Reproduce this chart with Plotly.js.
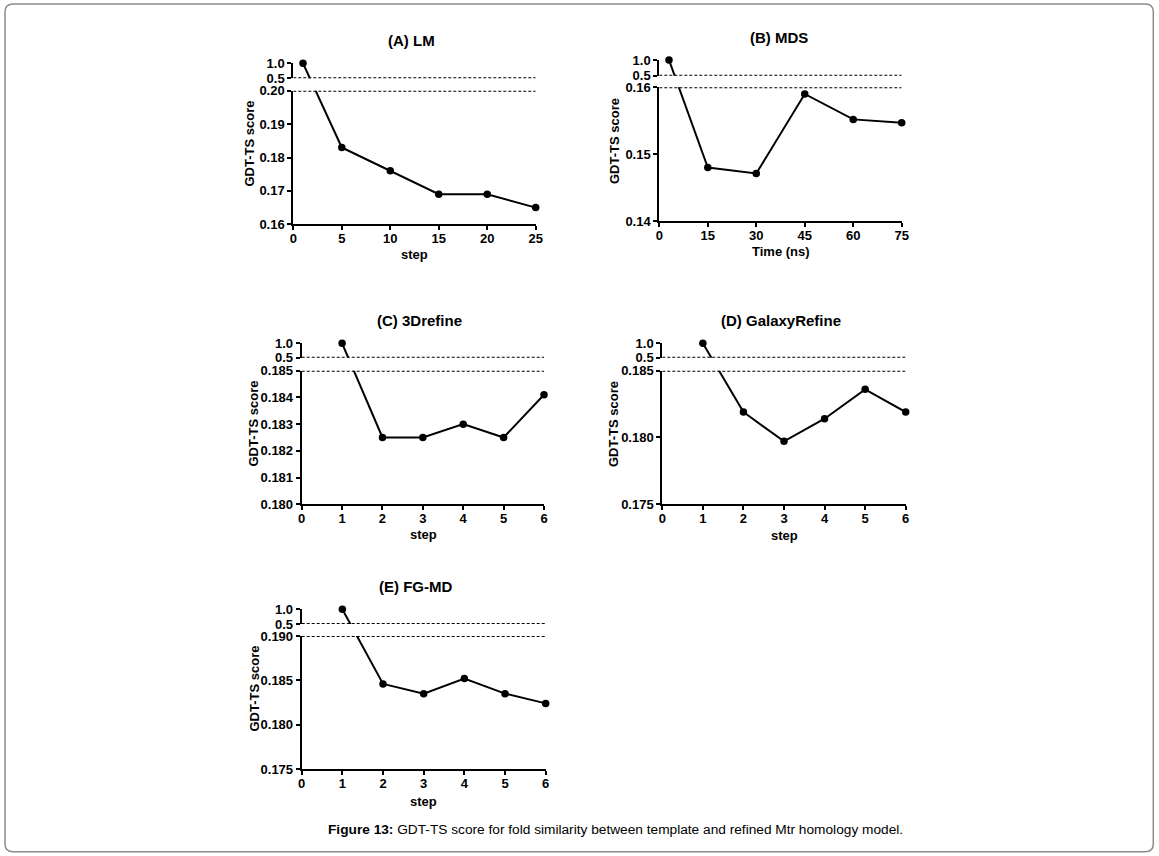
<!DOCTYPE html>
<html><head><meta charset="utf-8">
<script src="https://cdn.plot.ly/plotly-3.0.1.min.js"></script>
<style>html,body{margin:0;padding:0;background:#fff;} #chart{width:1159px;height:856px;}</style>
</head><body><div id="chart"></div>
<script>
// ---------- data ----------
const lmStep = [1, 5, 10, 15, 20, 25];
const lmScore = [1.0, 0.183, 0.176, 0.169, 0.169, 0.165];
const mdsTime = [3, 15, 30, 45, 60, 75];
const mdsScore = [1.0, 0.1480, 0.1471, 0.1590, 0.1552, 0.1547];
const refineStep = [1, 2, 3, 4, 5, 6];
const threeDrefineScore = [1.0, 0.1825, 0.1825, 0.1830, 0.1825, 0.1841];
const galaxyRefineScore = [1.0, 0.1819, 0.1797, 0.1814, 0.1836, 0.1819];
const fgmdScore = [1.0, 0.1846, 0.1835, 0.1852, 0.1835, 0.1824];

const upperTicks = [0.5, 1.0];
const upperTickText = ["0.5", "1.0"];
const lmTicks = [0.16, 0.17, 0.18, 0.19, 0.20];
const lmTickText = ["0.16", "0.17", "0.18", "0.19", "0.20"];
const mdsTicks = [0.14, 0.15, 0.16];
const mdsTickText = ["0.14", "0.15", "0.16"];
const threeDTicks = [0.180, 0.181, 0.182, 0.183, 0.184, 0.185];
const threeDTickText = ["0.180", "0.181", "0.182", "0.183", "0.184", "0.185"];
const galaxyTicks = [0.175, 0.180, 0.185];
const galaxyTickText = ["0.175", "0.180", "0.185"];
const fgmdTicks = [0.175, 0.180, 0.185, 0.190];
const fgmdTickText = ["0.175", "0.180", "0.185", "0.190"];
const lmXTicks = [0, 5, 10, 15, 20, 25];
const mdsXTicks = [0, 15, 30, 45, 60, 75];
const refineXTicks = [0, 1, 2, 3, 4, 5, 6];

const panelTitles = ["(A) LM", "(B) MDS", "(C) 3Drefine", "(D) GalaxyRefine", "(E) FG-MD"];
const xTitles = ["step", "Time (ns)", "step", "step", "step"];
const yTitle = "GDT-TS score";
const caption = "<b>Figure 13:</b> GDT-TS score for fold similarity between template and refined Mtr homology model.";

// ---------- layout geometry (pixels) ----------
const W = 1159, H = 856;
const px = x => x / W;
const py = y => 1 - y / H;

const panels = [
  {x: lmStep, y: lmScore, xt: lmXTicks, yt: lmTicks, ytt: lmTickText, xr: [0, 25], lr: [0.16, 0.20],
   g: {xl: 293.3, xr: 535.7, ut: 63.3, ub: 78.3, lt: 90.7, lb: 224.3, tx: 411.5, ty: 40, xtx: 414.5, xty: 254.5, ytx: 248.5, yty: 144}},
  {x: mdsTime, y: mdsScore, xt: mdsXTicks, yt: mdsTicks, ytt: mdsTickText, xr: [0, 75], lr: [0.14, 0.16],
   g: {xl: 659.3, xr: 901.7, ut: 60, ub: 75.7, lt: 87.3, lb: 221, tx: 779, ty: 38, xtx: 780.5, xty: 251.5, ytx: 614, yty: 141}},
  {x: refineStep, y: threeDrefineScore, xt: refineXTicks, yt: threeDTicks, ytt: threeDTickText, xr: [0, 6], lr: [0.180, 0.185],
   g: {xl: 301.7, xr: 544, ut: 343.3, ub: 357.7, lt: 370.7, lb: 504.3, tx: 419, ty: 320, xtx: 423, xty: 534, ytx: 253.5, yty: 424}},
  {x: refineStep, y: galaxyRefineScore, xt: refineXTicks, yt: galaxyTicks, ytt: galaxyTickText, xr: [0, 6], lr: [0.175, 0.185],
   g: {xl: 662.3, xr: 905.7, ut: 343.3, ub: 357.7, lt: 370.7, lb: 504, tx: 781, ty: 320, xtx: 784, xty: 535, ytx: 614, yty: 424}},
  {x: refineStep, y: fgmdScore, xt: refineXTicks, yt: fgmdTicks, ytt: fgmdTickText, xr: [0, 6], lr: [0.175, 0.190],
   g: {xl: 301.7, xr: 545.7, ut: 609.3, ub: 624, lt: 636, lb: 769, tx: 415, ty: 586, xtx: 423.7, xty: 801.5, ytx: 253.5, yty: 689}}
];
const upperRange = [0.5, 1.0];

const FONT = "Liberation Sans, Arial, Helvetica, sans-serif";
const tickFont = {family: FONT, size: 13, color: "#000", weight: "bold"};
const lineStyle = {color: "#000", width: 2};

const traces = [];
const layout = {
  width: W, height: H, margin: {l: 0, r: 0, t: 0, b: 0},
  paper_bgcolor: "#fff", plot_bgcolor: "rgba(0,0,0,0)",
  showlegend: false, shapes: [], annotations: [], font: {family: FONT, color: "#000"}
};

panels.forEach((p, i) => {
  const g = p.g;
  const xa = i === 0 ? "x" : "x" + (i + 1);
  const li = 2 * i + 1, ui = 2 * i + 2;
  const yl = li === 1 ? "y" : "y" + li;
  const yu = "y" + ui;
  const xDom = [px(g.xl), px(g.xr)];
  const lDom = [py(g.lb), py(g.lt)];
  const uDom = [py(g.ub), py(g.ut)];
  const lr = p.lr, ur = upperRange;

  const lowerToPaper = v => lDom[0] + (v - lr[0]) / (lr[1] - lr[0]) * (lDom[1] - lDom[0]);
  const paperToLower = q => lr[0] + (q - lDom[0]) / (lDom[1] - lDom[0]) * (lr[1] - lr[0]);
  const upperToPaper = v => uDom[0] + (v - ur[0]) / (ur[1] - ur[0]) * (uDom[1] - uDom[0]);
  const paperToUpper = q => ur[0] + (q - uDom[0]) / (uDom[1] - uDom[0]) * (ur[1] - ur[0]);

  const x0 = p.x[0], y0 = p.y[0], x1 = p.x[1], y1 = p.y[1];
  const y1OnUpper = paperToUpper(lowerToPaper(y1));
  const y0OnLower = paperToLower(upperToPaper(y0));

  // link segment through the axis break (clipped by each subplot)
  traces.push({x: [x0, x1], y: [y0, y1OnUpper], xaxis: xa, yaxis: yu, mode: "lines", line: lineStyle, hoverinfo: "skip"});
  traces.push({x: [x0, x1], y: [y0OnLower, y1], xaxis: xa, yaxis: yl, mode: "lines", line: lineStyle, hoverinfo: "skip"});
  // upper point
  traces.push({x: [x0], y: [y0], xaxis: xa, yaxis: yu, mode: "markers", cliponaxis: false,
               marker: {color: "#000", size: 7.5}});
  // lower series
  traces.push({x: p.x.slice(1), y: p.y.slice(1), xaxis: xa, yaxis: yl, mode: "lines+markers", cliponaxis: false,
               line: lineStyle, marker: {color: "#000", size: 7.5}});

  const axCommon = {showline: true, linecolor: "#000", linewidth: 2, ticks: "outside", tickcolor: "#000",
                    tickwidth: 2, showgrid: false, zeroline: false, tickfont: tickFont, fixedrange: true};
  layout[i === 0 ? "xaxis" : "xaxis" + (i + 1)] = Object.assign({}, axCommon, {
    domain: xDom, anchor: yl, range: p.xr, tickmode: "array", tickvals: p.xt, ticktext: p.xt.map(String),
    ticklen: 4, ticklabelstandoff: -3
  });
  layout[li === 1 ? "yaxis" : "yaxis" + li] = Object.assign({}, axCommon, {
    domain: lDom, anchor: xa, range: lr, tickmode: "array", tickvals: p.yt, ticktext: p.ytt, ticklen: 4
  });
  layout["yaxis" + ui] = Object.assign({}, axCommon, {
    domain: uDom, anchor: xa, range: ur, tickmode: "array", tickvals: upperTicks, ticktext: upperTickText, ticklen: 4
  });

  const dash = {color: "#000", width: 2, dash: "3px,2px"};
  layout.shapes.push({type: "line", xref: xa, yref: yu, x0: p.xr[0], x1: p.xr[1], y0: ur[0], y1: ur[0], line: dash});
  layout.shapes.push({type: "line", xref: xa, yref: yl, x0: p.xr[0], x1: p.xr[1], y0: lr[1], y1: lr[1], line: dash});

  layout.annotations.push({xref: "paper", yref: "paper", x: px(g.tx), y: py(g.ty), xanchor: "center", yanchor: "middle",
    showarrow: false, text: "<b>" + panelTitles[i] + "</b>", font: {family: FONT, size: 15, color: "#000"}});
  layout.annotations.push({xref: "paper", yref: "paper", x: px(g.xtx), y: py(g.xty), xanchor: "center", yanchor: "middle",
    showarrow: false, text: "<b>" + xTitles[i] + "</b>", font: {family: FONT, size: 13, color: "#000"}});
  layout.annotations.push({xref: "paper", yref: "paper", x: px(g.ytx), y: py(g.yty), xanchor: "center", yanchor: "middle",
    showarrow: false, textangle: -90, text: "<b>" + yTitle + "</b>", font: {family: FONT, size: 13, color: "#000"}});
});

layout.annotations.push({xref: "paper", yref: "paper", x: px(615.5), y: py(829), xanchor: "center", yanchor: "middle",
  showarrow: false, text: caption, font: {family: FONT, size: 13.7, color: "#000"}});

// rounded border
const L = 5, T = 4, R = 1153.3, B = 851.7, r = 8;
const P = (x, y) => px(x).toFixed(5) + "," + py(y).toFixed(5);
const borderPath = "M" + P(L, T + r) + " Q" + P(L, T) + " " + P(L + r, T) + " L" + P(R - r, T) +
  " Q" + P(R, T) + " " + P(R, T + r) + " L" + P(R, B - r) + " Q" + P(R, B) + " " + P(R - r, B) +
  " L" + P(L + r, B) + " Q" + P(L, B) + " " + P(L, B - r) + " Z";
layout.shapes.push({type: "path", xref: "paper", yref: "paper", path: borderPath, line: {color: "#8c8c8c", width: 1.5}});

Plotly.newPlot("chart", traces, layout, {displayModeBar: false, staticPlot: true});
</script></body></html>
